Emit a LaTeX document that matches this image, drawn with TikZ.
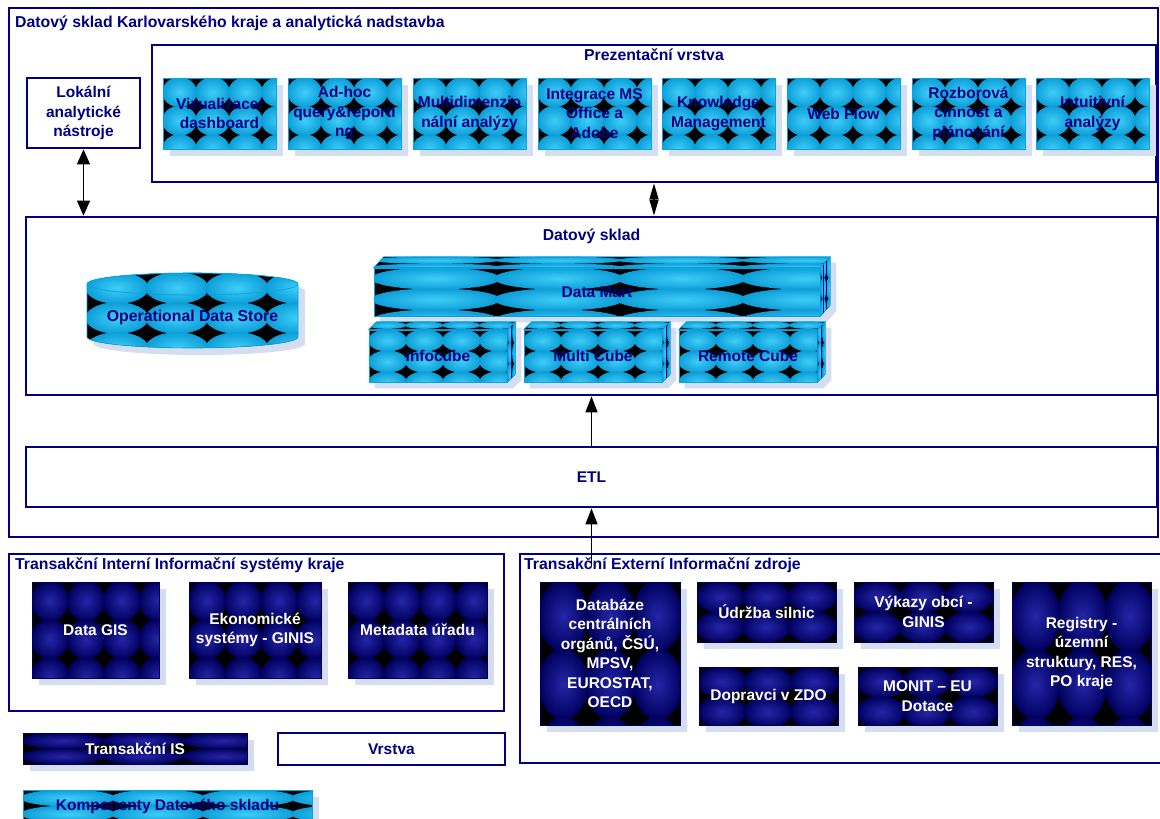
\documentclass[tikz,border=0pt]{standalone}
\usepackage{fontspec}
\setmainfont{Liberation Sans}
\usetikzlibrary{arrows.meta, backgrounds, calc}
\definecolor{Navy}  {HTML}{000080}
\definecolor{CyanD} {HTML}{0C9ED8}
\definecolor{CyanL} {HTML}{3FCDF8}
\definecolor{CyanB} {HTML}{00A6E6}
\definecolor{NvyD}  {HTML}{00005E}
\definecolor{NvyL}  {HTML}{2525A8}
\definecolor{Shd}   {HTML}{D5DEF0}
\tikzset{
  txt/.style={
    font=\fontsize{15.5}{19.5}\selectfont\bfseries,
  },
  lyr/.style={
    rectangle, draw=Navy, line width=2.8pt,
    txt, text=Navy, align=center, inner sep=0pt,
  },
  ttl/.style={
    font=\fontsize{15.8}{19.5}\selectfont\bfseries, text=Navy, inner sep=0pt,
  },
  shd/.style={
    preaction={fill=Shd, transform canvas={xshift=7pt, yshift=-7pt}},
  },
  % sphere texture: dark/light/step x/step y
  spheres/.style args={#1/#2/#3/#4}{
    path picture={
      \fill[black] (path picture bounding box.south west) rectangle (path picture bounding box.north east);
      \foreach \i in {0,...,5} \foreach \j in {0,...,5}
        \shade[inner color=#2, outer color=#1]
          ($(path picture bounding box.north west)+({(\i+0.5)*#3},{(\j+0.5)*#4})$)
          ellipse [x radius={0.525*#3}, y radius={0.525*#4}];
    },
  },
  cpat/.style args={#1/#2}{
    draw=CyanB, line width=0.6pt, spheres=CyanD/CyanL/#1/#2,
  },
  cube/.style args={#1/#2}{
    rectangle, cpat=#1/#2,
    txt, text=Navy, align=center, inner sep=0pt,
  },
  cblk/.style args={#1/#2}{
    rectangle, cpat=#1/#2, shd,
    txt, text=Navy, align=center, inner sep=0pt,
  },
  nblk/.style args={#1/#2}{
    rectangle, draw=NvyD, line width=0.6pt, spheres=NvyD/NvyL/#1/#2, shd,
    txt, text=white, align=center, inner sep=0pt,
  },
  pblk/.style={
    cblk=33/28.5, minimum width=113pt, minimum height=71pt,
  },
  arr/.style={
    -{Triangle[length=16pt,width=12pt]}, line width=1.5pt, black,
  },
  dblarr/.style args={#1/#2}{
    {Triangle[length=#1,width=#2]}-{Triangle[length=#1,width=#2]},
    line width=1.5pt, black,
  },
}
\begin{document}
\begin{tikzpicture}[x=1pt,y=-1pt]
  \useasboundingbox (0,0) rectangle (1160,819);

  % outer frame
  \node[lyr, minimum width=1149pt, minimum height=529pt] (dwh) at (583.5,272.5) {};
  \node[ttl, anchor=west] (dwhttl) at (15,23) {Datový sklad Karlovarského kraje a analytická nadstavba};

  % presentation layer
  \node[lyr, minimum width=1004pt, minimum height=137pt] (prez) at (654,113.5) {};
  \node[ttl] (prezttl) at (654,55) {Prezentační vrstva};
  \node[pblk] (viz)  at ( 219.5,113.5) {Vizualizace/\\dashboard};
  \node[pblk] (adh)  at ( 344.5,113.5) {Ad-hoc\\query\&reporti\\ng};
  \node[pblk] (mda)  at ( 469.5,113.5) {Multidimenzio\\nální analýzy};
  \node[pblk] (ims)  at ( 594.5,113.5) {Integrace MS\\Office a\\Adobe};
  \node[pblk] (knm)  at ( 718.5,113.5) {Knowledge\\Management};
  \node[pblk] (wfl)  at ( 843.5,113.5) {Web Flow};
  \node[pblk] (rzb)  at ( 968.5,113.5) {Rozborová\\činnost a\\plánování};
  \node[pblk] (inta) at (1092.5,113.5) {Intuitivní\\analýzy};

  \node[lyr, minimum width=113pt, minimum height=70pt] (lok) at (83.5,113) {Lokální\\analytické\\nástroje};

  % data warehouse
  \node[lyr, minimum width=1131pt, minimum height=178pt] (skl) at (591.5,306) {};
  \node[ttl] (sklttl) at (591.5,236) {Datový sklad};

  \path[cpat=60/30, shd] (87,284) -- (87,337)
      arc[start angle=180, end angle=0, x radius=105.5, y radius=11] -- (298,284)
      arc[start angle=0, end angle=-180, x radius=105.5, y radius=11] -- cycle;
  \draw[CyanB, line width=0.6pt] (192.5,284) ellipse [x radius=105.5, y radius=11];
  \node[ttl] (ods) at (192.5,317) {Operational Data Store};

  \node[cube=123/21, minimum width=446pt, minimum height=48pt] (dm)  at (597,292) {Data Mart};
  \node[cube=37/21,  minimum width=138pt, minimum height=52pt] (icb) at (438,356) {Infocube};
  \node[cube=37/21,  minimum width=138pt, minimum height=52pt] (mcb) at (593,356) {Multi Cube};
  \node[cube=37/21,  minimum width=138pt, minimum height=52pt] (rcb) at (748,356) {Remote Cube};

  \path[cpat=123/7] (dm.north west) -- ++(10,-11) -- ([shift={(10,-11)}]dm.north east) -- (dm.north east) -- cycle;
  \path[cpat=6/21]  (dm.north east) -- ++(10,-11) -- ([shift={(10,-11)}]dm.south east) -- (dm.south east) -- cycle;
  \draw[Navy, line width=0.5pt] ([shift={(3,-3)}]dm.north east) -- ([shift={(3,-3)}]dm.south east);
  \draw[Navy, line width=0.5pt] ([shift={(6,-7)}]dm.north east) -- ([shift={(6,-7)}]dm.south east);

  \path[cpat=37/7] (icb.north west) -- ++(8,-8) -- ([shift={(8,-8)}]icb.north east) -- (icb.north east) -- cycle;
  \path[cpat=5/21] (icb.north east) -- ++(8,-8) -- ([shift={(8,-8)}]icb.south east) -- (icb.south east) -- cycle;
  \draw[Navy, line width=0.5pt] ([shift={(4,-4)}]icb.north east) -- ([shift={(4,-4)}]icb.south east);

  \path[cpat=37/7] (mcb.north west) -- ++(8,-8) -- ([shift={(8,-8)}]mcb.north east) -- (mcb.north east) -- cycle;
  \path[cpat=5/21] (mcb.north east) -- ++(8,-8) -- ([shift={(8,-8)}]mcb.south east) -- (mcb.south east) -- cycle;
  \draw[Navy, line width=0.5pt] ([shift={(4,-4)}]mcb.north east) -- ([shift={(4,-4)}]mcb.south east);

  \path[cpat=37/7] (rcb.north west) -- ++(8,-8) -- ([shift={(8,-8)}]rcb.north east) -- (rcb.north east) -- cycle;
  \path[cpat=5/21] (rcb.north east) -- ++(8,-8) -- ([shift={(8,-8)}]rcb.south east) -- (rcb.south east) -- cycle;
  \draw[Navy, line width=0.5pt] ([shift={(4,-4)}]rcb.north east) -- ([shift={(4,-4)}]rcb.south east);

  \begin{scope}[on background layer]
    \fill[Shd] ([shift={(6,6)}]dm.north west) -- ([shift={(16,-5)}]dm.north west) -- ([shift={(16,-5)}]dm.north east)
      -- ([shift={(16,-5)}]dm.south east) -- ([shift={(6,6)}]dm.south east) -- ([shift={(6,6)}]dm.south west) -- cycle;
    \fill[Shd] ([shift={(6,6)}]icb.north west) -- ([shift={(14,-2)}]icb.north west) -- ([shift={(14,-2)}]icb.north east)
      -- ([shift={(14,-2)}]icb.south east) -- ([shift={(6,6)}]icb.south east) -- ([shift={(6,6)}]icb.south west) -- cycle;
    \fill[Shd] ([shift={(6,6)}]mcb.north west) -- ([shift={(14,-2)}]mcb.north west) -- ([shift={(14,-2)}]mcb.north east)
      -- ([shift={(14,-2)}]mcb.south east) -- ([shift={(6,6)}]mcb.south east) -- ([shift={(6,6)}]mcb.south west) -- cycle;
    \fill[Shd] ([shift={(6,6)}]rcb.north west) -- ([shift={(14,-2)}]rcb.north west) -- ([shift={(14,-2)}]rcb.north east)
      -- ([shift={(14,-2)}]rcb.south east) -- ([shift={(6,6)}]rcb.south east) -- ([shift={(6,6)}]rcb.south west) -- cycle;
  \end{scope}

  % ETL
  \node[lyr, minimum width=1131pt, minimum height=60pt] (etl) at (591.5,477) {ETL};

  % internal sources
  \node[lyr, minimum width=495pt, minimum height=157pt] (intr) at (256.5,632.5) {};
  \node[ttl, anchor=west] (intrttl) at (15,565) {Transakční Interní Informační systémy kraje};
  \node[nblk=36/38, minimum width=127pt, minimum height=96pt] (gis)  at ( 95.5,630) {Data GIS};
  \node[nblk=36/38, minimum width=132pt, minimum height=96pt] (eko)  at (255,630)   {Ekonomické\\systémy - GINIS};
  \node[nblk=36/38, minimum width=139pt, minimum height=96pt] (meta) at (417.5,630) {Metadata úřadu};

  % external sources
  \node[lyr, minimum width=643pt, minimum height=209pt] (extr) at (841.5,658.5) {};
  \node[ttl, anchor=west] (extrttl) at (524,565) {Transakční Externí Informační zdroje};
  \node[nblk=47/68, minimum width=140pt, minimum height=143pt] (cdb) at ( 610,653.5) {Databáze\\centrálních\\orgánů, ČSÚ,\\MPSV,\\EUROSTAT,\\OECD};
  \node[nblk=46/30, minimum width=139pt, minimum height=60pt]  (udr) at (766.5,612)  {Údržba silnic};
  \node[nblk=46/30, minimum width=139pt, minimum height=60pt]  (vyk) at (923.5,612)  {Výkazy obcí -\\GINIS};
  \node[nblk=46/30, minimum width=139pt, minimum height=58pt]  (dop) at (768.5,696)  {Dopravci v ZDO};
  \node[nblk=46/30, minimum width=139pt, minimum height=58pt]  (mon) at (927.5,696)  {MONIT – EU\\Dotace};
  \node[nblk=47/68, minimum width=139pt, minimum height=143pt] (reg) at (1081.5,653.5) {Registry -\\územní\\struktury, RES,\\PO kraje};

  % legend
  \node[nblk=80/15.5, minimum width=224pt, minimum height=31pt] (lgtis) at (135,748.5) {Transakční IS};
  \node[lyr, fill=white, minimum width=227pt, minimum height=32pt] (lgvr) at (391.5,749) {Vrstva};
  \node[cblk=90/16, minimum width=289pt, minimum height=32pt] (lgkmp) at (167.5,806) {Komponenty Datového skladu};

  % flows
  \coordinate (extsrc) at (591.5,566);
  \draw[dblarr=15pt/13pt] (lok.south) -- (lok.south |- skl.north);
  \draw[dblarr=16pt/9pt] (prez.south) -- (prez.south |- skl.north);
  \draw[arr] (etl.north) -- (etl.north |- skl.south);
  \draw[arr] (extsrc) -- (extsrc |- etl.south);

\end{tikzpicture}
\end{document}
